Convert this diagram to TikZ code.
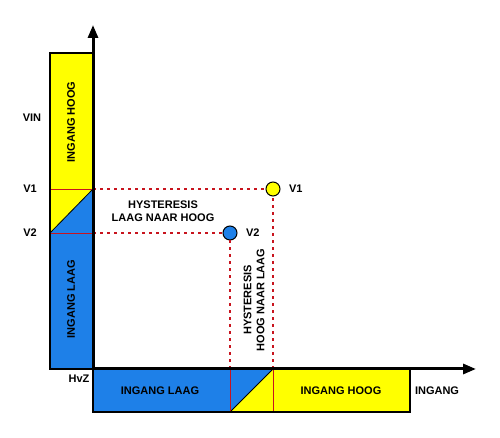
\documentclass[tikz,border=0pt]{standalone}
\usepackage{fontspec}
\setmainfont{Liberation Sans}
\usetikzlibrary{positioning}
\usetikzlibrary{arrows.meta}
\definecolor{geel}{RGB}{255,255,0}
\definecolor{blauw}{RGB}{30,128,232}
\definecolor{rood}{RGB}{200,20,30}

\begin{document}
\begin{tikzpicture}[x=1pt, y=1pt,
  font=\fontsize{11}{13}\selectfont\bfseries,
  balk/.style={draw=black, line width=1.3pt},
  rlijn/.style={rood, line width=0.9pt},
  stippel/.style={rood, line width=1.2pt, dash pattern=on 3pt off 4pt},
  punt/.style={draw=black, circle, line width=1pt, inner sep=0pt, minimum size=14pt},
  as/.style={line width=3pt, -{Triangle[length=13pt, width=10pt]}}]
  \useasboundingbox (0,0) rectangle (500,438);
  % assen
  \coordinate (O) at (93,69);
  \coordinate (ytop) at (93,413);
  \coordinate (xend) at (476,69);
  \coordinate (a1) at (93,249);
  \coordinate (a2) at (93,205);
  \coordinate (b1) at (273,69);
  \coordinate (b2) at (230,69);
  % balk links
  \fill[geel] (50,385) -- (93,385) -- (a1) -- (50,205) -- cycle;
  \fill[blauw] (50,69) -- (O) -- (a1) -- (50,205) -- cycle;
  \draw[black, line width=0.8pt] (50,205) -- (a1);
  \draw[rlijn] (50,249) -- (a1);
  \draw[rlijn] (50,205) -- (a2);
  \draw[balk] (93,385) -- (50,385) -- (50,69) -- (O);
  % balk onder
  \fill[blauw] (O) -- (b1) -- (230,26) -- (93,26) -- cycle;
  \fill[geel] (b1) -- (410,69) -- (410,26) -- (230,26) -- cycle;
  \draw[black, line width=0.8pt] (230,26) -- (b1);
  \draw[rlijn] (b1) -- (273,26);
  \draw[rlijn] (b2) -- (230,26);
  \draw[balk] (O) -- (93,26) -- (410,26) -- (410,69);
  % punten
  \node[punt, fill=geel] (v1) at (273,249) {};
  \node[punt, fill=blauw] (v2) at (230,205) {};
  \node[right=5pt of v1] (v1lbl) {V1};
  \node[right=5pt of v2] (v2lbl) {V2};
  \draw[stippel] (a1) -- (v1);
  \draw[stippel] (a2) -- (v2);
  \draw[stippel] (b1) -- (v1);
  \draw[stippel] (b2) -- (v2);
  \draw[as] (O) -- (ytop);
  \draw[as] (O) -- (xend);
  % teksten
  \node (vin) at (32,320) {VIN};
  \node (lv1) at (30,249) {V1};
  \node (lv2) at (30,205) {V2};
  \node (hvz) at (79,59) {HvZ};
  \node (ingang) at (437,47) {INGANG};
  \node[rotate=90] (hoogl) at (71,316) {INGANG HOOG};
  \node[rotate=90] (laagl) at (71,139) {INGANG LAAG};
  \node (laagb) at (160,47) {INGANG LAAG};
  \node (hoogb) at (341,47) {INGANG HOOG};
  \node[align=center] (hyst1) at (163,227) {HYSTERESIS\\LAAG NAAR HOOG};
  \node[align=center, rotate=90] (hyst2) at (254,138) {HYSTERESIS\\HOOG NAAR LAAG};
\end{tikzpicture}
\end{document}
